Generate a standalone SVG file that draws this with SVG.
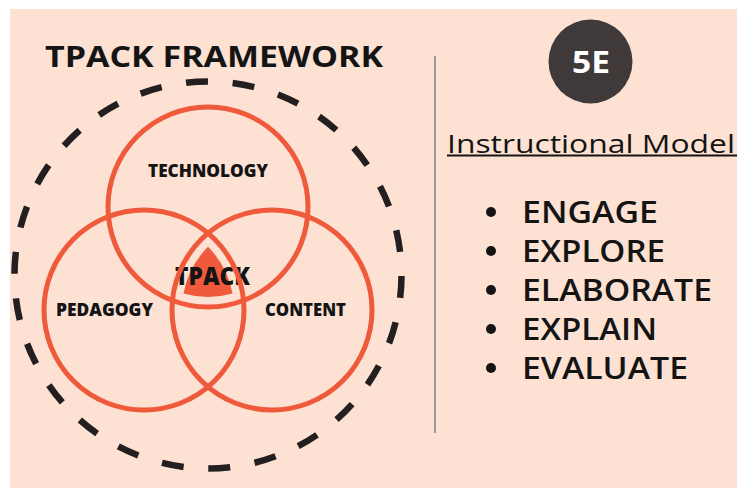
<svg xmlns="http://www.w3.org/2000/svg" width="737" height="489" viewBox="0 0 737 489">
<style>
.ring{fill:none;stroke:#EE5A3B;stroke-width:5}
.lbl{font-family:"Open Sans","Liberation Sans",sans-serif;font-weight:800;fill:#141414;text-anchor:middle}
.item{font-family:"Open Sans","Liberation Sans",sans-serif;font-weight:600;font-size:30px;fill:#141414}
.dot{fill:#141414}
</style>
<rect x="0" y="0" width="737" height="489" fill="#ffffff"/>
<rect x="10" y="9" width="727" height="479" fill="#FDE2D3"/>
<text x="45" y="67" font-family="'Open Sans','Liberation Sans',sans-serif" font-weight="700" font-size="29" fill="#141414" textLength="338" lengthAdjust="spacingAndGlyphs">TPACK FRAMEWORK</text>
<g id="boundary">
<circle cx="208" cy="275" r="193.5" fill="none" stroke="#231F20" stroke-width="6.5" stroke-dasharray="22 24.76" stroke-dashoffset="-1"/>
</g>
<g id="tpack">
<path d="M208 246.72 A90 90 0 0 0 183.5 293.6 A90 90 0 0 0 232.5 293.6 A90 90 0 0 0 208 246.72 Z" fill="#EE5A3B"/>
<text class="lbl" x="212.5" y="285" font-size="24" textLength="75" lengthAdjust="spacingAndGlyphs">TPACK</text>
</g>
<g id="technology">
<circle class="ring" cx="208" cy="207" r="100"/>
<text class="lbl" x="208" y="177" font-size="17" textLength="120" lengthAdjust="spacingAndGlyphs">TECHNOLOGY</text>
</g>
<g id="pedagogy">
<circle class="ring" cx="144" cy="310" r="100"/>
<text class="lbl" x="104.5" y="316" font-size="17" textLength="97" lengthAdjust="spacingAndGlyphs">PEDAGOGY</text>
</g>
<g id="content">
<circle class="ring" cx="272" cy="310" r="100"/>
<text class="lbl" x="305.5" y="316" font-size="17" textLength="81" lengthAdjust="spacingAndGlyphs">CONTENT</text>
</g>
<g id="divider">
<line x1="435" y1="56" x2="435" y2="433" stroke="#9A9A9A" stroke-width="2"/>
</g>
<g id="badge-5e">
<circle cx="590.5" cy="61.5" r="42" fill="#3F3A39"/>
<text x="591" y="73" font-family="'Open Sans','Liberation Sans',sans-serif" font-weight="700" font-size="30" fill="#ffffff" text-anchor="middle" textLength="38" lengthAdjust="spacingAndGlyphs">5E</text>
</g>
<g id="model-title">
<text x="447" y="153" font-family="'Open Sans','Liberation Sans',sans-serif" font-weight="500" font-size="26" fill="#141414" textLength="288" lengthAdjust="spacingAndGlyphs">Instructional Model</text>
<rect x="447" y="154.5" width="290" height="2" fill="#141414"/>
</g>
<g id="steps">
<circle class="dot" cx="491" cy="212" r="5"/>
<text class="item" x="522" y="223" textLength="136" lengthAdjust="spacingAndGlyphs">ENGAGE</text>
<circle class="dot" cx="491" cy="251" r="5"/>
<text class="item" x="522" y="262" textLength="143" lengthAdjust="spacingAndGlyphs">EXPLORE</text>
<circle class="dot" cx="491" cy="290" r="5"/>
<text class="item" x="522" y="301" textLength="190" lengthAdjust="spacingAndGlyphs">ELABORATE</text>
<circle class="dot" cx="491" cy="329" r="5"/>
<text class="item" x="522" y="340" textLength="135" lengthAdjust="spacingAndGlyphs">EXPLAIN</text>
<circle class="dot" cx="491" cy="368" r="5"/>
<text class="item" x="522" y="379" textLength="166" lengthAdjust="spacingAndGlyphs">EVALUATE</text>
</g>
</svg>
